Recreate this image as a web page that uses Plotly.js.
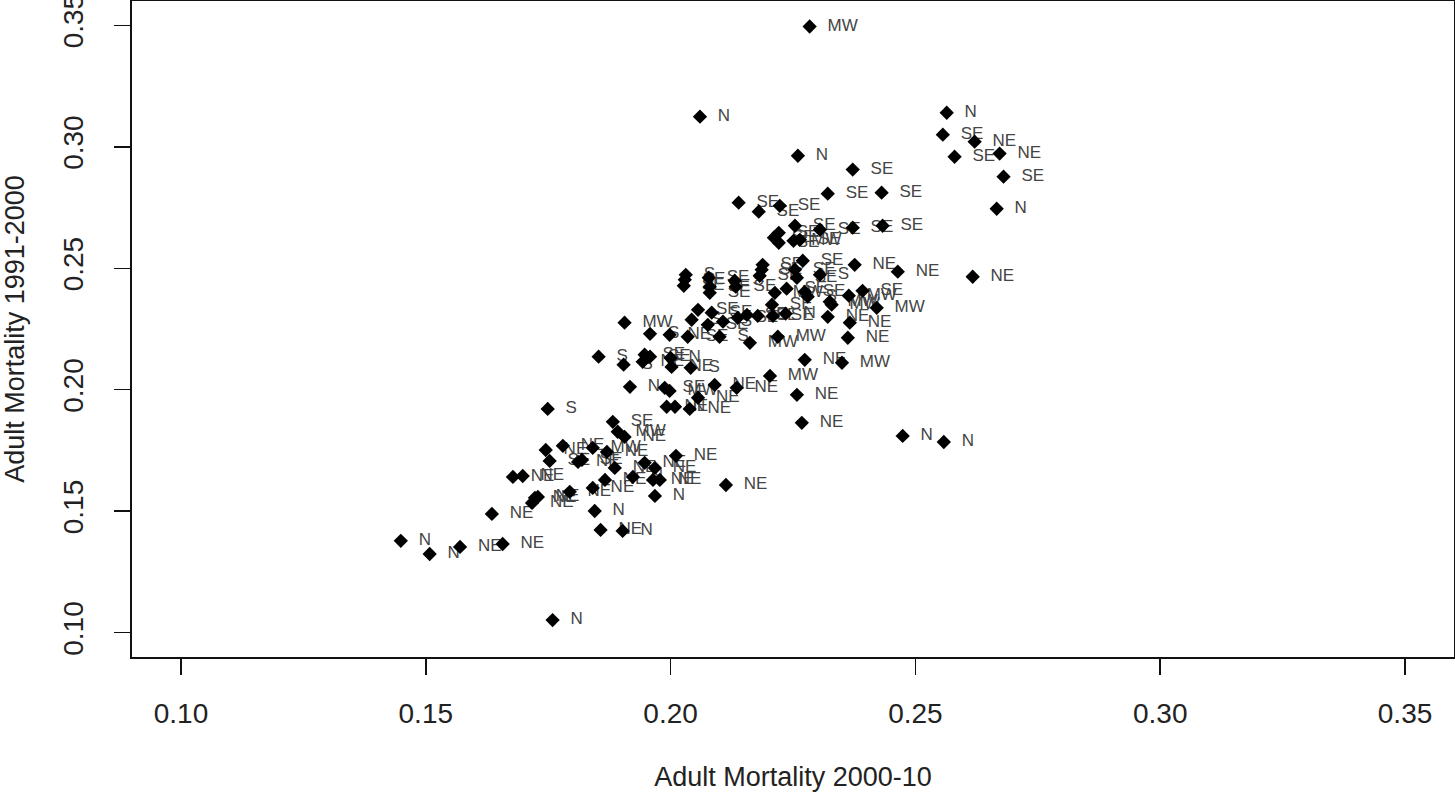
<!DOCTYPE html>
<html>
<head>
<meta charset="utf-8">
<script src="https://cdn.plot.ly/plotly-3.0.1.min.js"></script>
<style>html,body{margin:0;padding:0;background:#fff;}#chart{width:1455px;height:795px;}</style>
</head>
<body>
<div id="chart"></div>
<script>
// Adult mortality 2000-10 (x) vs 1991-2000 (y), labelled by region
const mort2000_10 = [
0.2284,0.2060,0.2260,0.2372,0.2564,0.2556,0.2621,0.2580,0.2672,0.2680,0.2666,0.2617,0.2321,0.2431,0.2139,0.2180,0.2223,
0.2254,0.2305,0.2372,0.2433,0.2211,0.2221,0.2221,0.2251,0.2264,
0.2031,0.2029,0.2027,0.2078,0.2080,0.2080,0.2131,0.2133,0.2188,0.2186,0.2182,0.2270,0.2254,0.2258,0.2305,0.2376,0.2464,
0.2213,0.2237,0.2274,0.2280,0.2364,0.2392,0.2325,0.2329,0.2421,0.2321,0.2366,0.2362,0.2350,0.2235,
0.1906,0.1958,0.1998,0.2035,0.2100,0.2162,0.2219,0.2056,0.2084,0.2043,0.2076,0.2107,0.2137,0.2156,0.2178,0.2207,0.2209,
0.1853,0.1904,0.1947,0.1958,0.1943,0.2000,0.2002,0.2041,
0.1917,0.1988,0.1998,0.2090,0.2135,0.2056,0.1992,0.2009,0.2039,0.2258,0.2203,0.2268,0.2274,
0.1749,0.1780,0.1745,0.1841,0.1870,0.1753,0.1811,0.1819,0.1886,0.1678,0.1698,0.1717,0.1723,0.1729,0.1794,0.1841,0.1866,
0.1845,0.1857,0.1902,0.1635,0.1882,0.1892,0.1906,0.1947,0.1968,0.1923,0.1964,0.1978,0.2011,0.1968,0.2113,
0.1449,0.1508,0.1570,0.1657,0.1759,
0.2474,0.2558
];
const mort1991_2000 = [
0.3495,0.3124,0.2963,0.2906,0.3140,0.3050,0.3021,0.2959,0.2972,0.2877,0.2745,0.2465,0.2807,0.2811,0.2770,0.2733,0.2757,
0.2675,0.2659,0.2667,0.2675,0.2626,0.2605,0.2646,0.2613,0.2617,
0.2473,0.2453,0.2428,0.2461,0.2424,0.2399,0.2449,0.2424,0.2514,0.2494,0.2469,0.2531,0.2494,0.2461,0.2473,0.2514,0.2486,
0.2399,0.2416,0.2403,0.2383,0.2387,0.2407,0.2362,0.2350,0.2337,0.2300,0.2276,0.2214,0.2111,0.2313,
0.2276,0.2230,0.2226,0.2218,0.2218,0.2193,0.2218,0.2329,0.2317,0.2288,0.2267,0.2280,0.2296,0.2308,0.2304,0.2350,0.2304,
0.2136,0.2103,0.2144,0.2136,0.2115,0.2131,0.2094,0.2090,
0.2012,0.2008,0.1995,0.2020,0.2008,0.1967,0.1930,0.1930,0.1921,0.1979,0.2057,0.1864,0.2123,
0.1921,0.1769,0.1752,0.1761,0.1744,0.1707,0.1703,0.1711,0.1678,0.1641,0.1645,0.1534,0.1555,0.1559,0.1580,0.1596,0.1629,
0.1501,0.1423,0.1419,0.1489,0.1868,0.1827,0.1806,0.1699,0.1678,0.1641,0.1629,0.1629,0.1728,0.1563,0.1608,
0.1378,0.1324,0.1353,0.1365,0.1052,
0.1810,0.1785
];
const region = [
"MW","N","N","SE","N","SE","NE","SE","NE","SE","N","NE","SE","SE","SE","SE","SE",
"SE","SE","SE","SE","SE","SE","SE","MW","SE",
"S","SE","SE","SE","SE","SE","S","SE","SE","SE","SE","SE","SE","SE","S","NE","NE",
"MW","SE","SE","S","MW","SE","MW","MW","MW","NE","NE","NE","MW","N",
"MW","S","NE","SE","S","MW","MW","SE","SE","S","SE","S","SE","SE","SE","SE","SE",
"S","S","SE","SE","NE","N","NE","S",
"N","SE","MW","NE","NE","NE","NE","N","NE","NE","MW","NE","NE",
"S","NE","NE","MW","NE","SE","NE","SE","NE","NE","NE","NE","NE","NE","NE","NE","NE",
"N","NE","N","NE","SE","MW","NE","NE","NE","N","NE","NE","NE","N","NE",
"N","N","NE","NE","N",
"N","N"
];
const tickValues = [0.10,0.15,0.20,0.25,0.30,0.35];
const tickLabels = ["0.10","0.15","0.20","0.25","0.30","0.35"];

const FONT = "Liberation Sans, Arial, sans-serif";
const labelTrace = {
  x: mort2000_10, y: mort1991_2000, text: region,
  type: "scatter", mode: "markers+text",
  marker: {symbol: "diamond", size: 27, color: "rgba(0,0,0,0)", line: {width: 0}},
  textposition: "middle right",
  textfont: {family: FONT, size: 17, color: "#444"},
  hoverinfo: "skip", showlegend: false, cliponaxis: false
};
const pointTrace = {
  x: mort2000_10, y: mort1991_2000,
  type: "scatter", mode: "markers",
  marker: {symbol: "diamond", size: 11, color: "#000", line: {width: 0}},
  hoverinfo: "x+y", showlegend: false
};
const axisCommon = {
  range: [0.09, 0.36], autorange: false,
  showgrid: false, zeroline: false,
  showline: true, mirror: true, linecolor: "#111", linewidth: 2,
  ticks: "outside", ticklen: 16, tickwidth: 1.5, tickcolor: "#111",
  tickvals: tickValues, ticktext: tickLabels,
  ticklabeloverflow: "allow",
  tickfont: {family: FONT, size: 28, color: "#222"}
};
const layout = {
  width: 1455, height: 795,
  margin: {l: 132, r: 1, t: 1, b: 138, pad: 0},
  paper_bgcolor: "#fff", plot_bgcolor: "#fff",
  xaxis: Object.assign({}, axisCommon, {
    title: {text: "Adult Mortality 2000-10", font: {family: FONT, size: 27, color: "#222"}, standoff: 40},
    ticklabelstandoff: 14
  }),
  yaxis: Object.assign({}, axisCommon, {
    tickangle: -90,
    title: {text: "Adult Mortality 1991-2000", font: {family: FONT, size: 27, color: "#222"}, standoff: 28},
    ticklabelstandoff: 20
  }),
  showlegend: false
};
Plotly.newPlot("chart", [labelTrace, pointTrace], layout, {displayModeBar: false, staticPlot: true});
</script>
</body>
</html>
